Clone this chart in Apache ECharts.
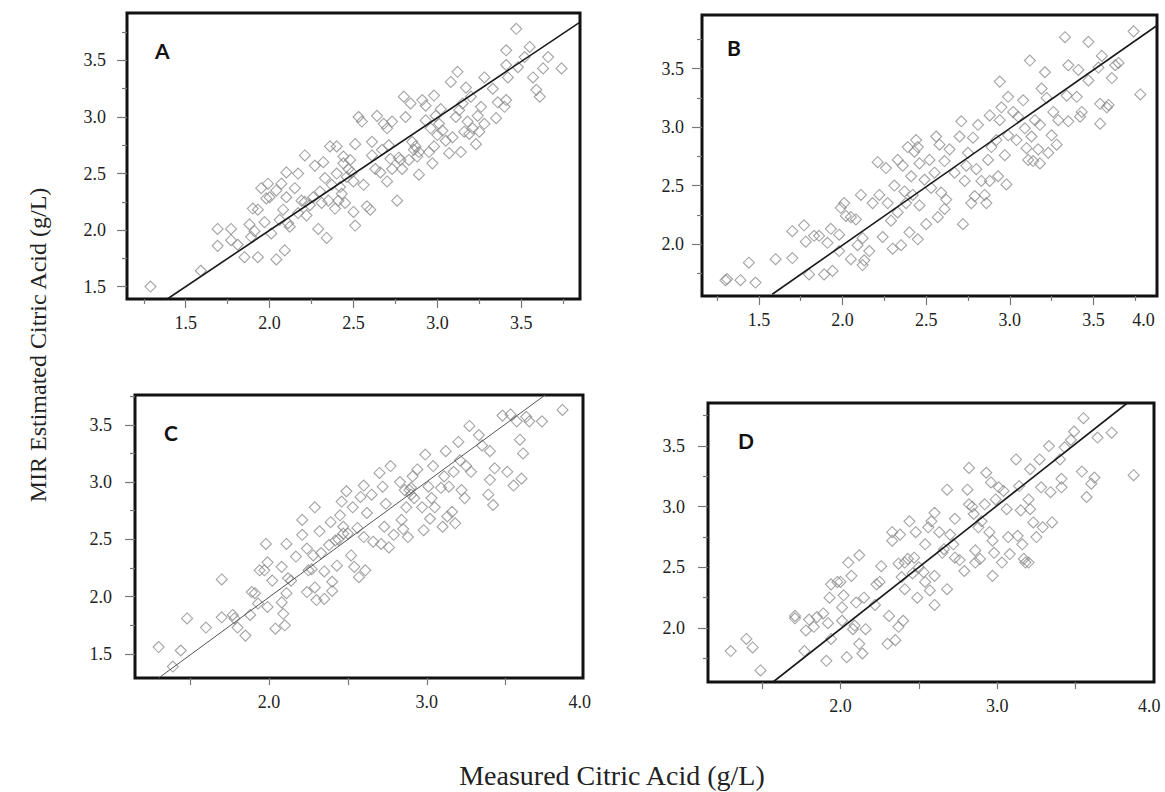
<!DOCTYPE html>
<html>
<head>
<meta charset="utf-8">
<title>MIR estimated vs measured citric acid</title>
<script src="https://cdn.jsdelivr.net/npm/echarts@6/dist/echarts.min.js"></script>
<style>
  html, body { margin: 0; padding: 0; background: #fff; }
  #chart { width: 1165px; height: 792px; }
</style>
</head>
<body>
<div id="chart"></div>
<script>
// measured (x) vs MIR estimated (y)
const pointsA = [
  [1.29,1.50],[1.59,1.64],[1.69,2.01],[1.69,1.86],[1.77,2.01],[1.77,1.91],[1.81,1.87],[1.85,1.76],
  [1.88,2.05],[1.90,2.19],[1.91,1.99],[1.93,1.76],[1.93,2.18],[1.95,2.37],[1.98,2.28],[1.99,2.41],
  [2.00,2.29],[1.97,2.07],[2.01,1.97],[2.04,2.35],[2.04,1.74],[2.07,2.41],[2.08,2.18],[2.09,1.82],
  [2.10,2.29],[2.10,2.51],[2.12,2.03],[2.11,2.06],[2.15,2.37],[2.17,2.50],[2.17,2.15],[2.21,2.66],
  [2.21,2.25],[2.22,2.13],[2.24,2.22],[2.26,2.29],[2.27,2.57],[2.29,2.01],[2.31,2.24],[2.32,2.60],
  [2.33,2.46],[2.34,1.93],[2.35,2.26],[2.36,2.74],[2.37,2.40],[2.39,2.19],[2.40,2.74],[2.40,2.50],
  [2.42,2.38],[2.43,2.32],[2.44,2.65],[2.44,2.59],[2.45,2.24],[2.46,2.47],[2.47,2.54],[2.49,2.51],
  [2.50,2.43],[2.51,2.76],[2.50,2.16],[2.51,2.04],[2.53,3.00],[2.55,2.96],[2.56,2.40],[2.58,2.21],
  [2.60,2.18],[2.61,2.78],[2.61,2.66],[2.63,2.54],[2.64,3.01],[2.66,2.51],[2.67,2.71],[2.68,2.94],
  [2.70,2.90],[2.71,2.75],[2.72,2.63],[2.73,2.96],[2.73,2.54],[2.76,2.26],[2.77,2.64],[2.79,2.54],
  [2.80,3.18],[2.81,3.00],[2.83,2.62],[2.84,3.12],[2.85,2.78],[2.86,2.71],[2.87,2.74],[2.88,2.65],
  [2.89,2.49],[2.89,2.69],[2.91,3.15],[2.93,3.10],[2.93,2.97],[2.95,2.69],[2.96,2.90],[2.97,2.59],
  [2.98,3.19],[2.98,2.74],[2.99,3.01],[3.00,2.84],[3.01,2.94],[3.02,3.07],[3.03,2.88],[3.05,2.79],
  [3.07,2.68],[3.08,3.31],[3.09,2.82],[3.11,3.00],[3.12,3.40],[3.13,3.06],[3.14,2.69],[3.15,3.12],
  [3.16,2.87],[3.17,3.26],[3.18,2.96],[3.19,2.85],[3.20,3.18],[3.21,2.90],[3.23,2.76],[3.24,3.01],
  [3.25,2.87],[3.26,3.09],[3.28,3.35],[3.28,2.94],[3.33,3.25],[3.35,2.99],[3.36,3.13],[3.40,3.09],
  [3.41,3.59],[3.41,3.15],[3.42,3.35],[3.41,3.46],[3.47,3.78],[3.48,3.44],[3.52,3.53],[3.55,3.62],
  [3.57,3.35],[3.59,3.24],[3.61,3.18],[3.63,3.43],[3.66,3.53],[3.74,3.43],[1.89,1.94],[2.06,2.09],
  [2.19,2.26],[2.30,2.34],[2.41,2.26],[2.48,2.62],[2.70,2.43],[2.78,2.62]
];
const pointsB = [
  [1.30,1.69],[1.31,1.70],[1.39,1.69],[1.44,1.84],[1.48,1.67],[1.60,1.87],[1.70,2.11],[1.70,1.88],
  [1.77,2.16],[1.78,2.02],[1.80,1.74],[1.83,2.07],[1.86,2.07],[1.89,1.74],[1.91,2.01],[1.93,2.13],
  [1.94,1.77],[1.98,2.08],[1.98,1.94],[1.99,2.31],[2.01,2.35],[2.02,2.24],[2.05,1.87],[2.05,2.23],
  [2.08,2.21],[2.09,1.99],[2.11,2.42],[2.12,2.05],[2.12,1.82],[2.13,1.86],[2.16,1.94],[2.18,2.35],
  [2.21,2.70],[2.22,2.42],[2.24,2.06],[2.26,2.65],[2.27,2.35],[2.29,2.20],[2.30,1.96],[2.31,2.50],
  [2.33,2.72],[2.33,2.27],[2.35,1.99],[2.36,2.67],[2.37,2.45],[2.38,2.35],[2.39,2.83],[2.40,2.10],
  [2.41,2.58],[2.42,2.42],[2.43,2.79],[2.44,2.89],[2.45,2.83],[2.45,2.04],[2.46,2.69],[2.46,2.33],
  [2.49,2.55],[2.50,2.17],[2.52,2.72],[2.53,2.48],[2.55,2.61],[2.56,2.92],[2.57,2.23],[2.58,2.85],
  [2.59,2.44],[2.61,2.71],[2.61,2.30],[2.62,2.38],[2.64,2.81],[2.67,2.61],[2.70,2.92],[2.71,3.05],
  [2.72,2.17],[2.73,2.54],[2.74,2.67],[2.75,2.78],[2.77,2.35],[2.78,2.91],[2.79,2.41],[2.80,2.64],
  [2.81,3.02],[2.83,2.54],[2.85,2.42],[2.86,2.35],[2.87,2.72],[2.88,3.10],[2.88,2.54],[2.89,2.83],
  [2.92,2.89],[2.93,2.58],[2.94,3.39],[2.94,3.06],[2.95,3.17],[2.97,2.76],[2.98,2.51],[2.99,3.26],
  [2.99,2.93],[3.02,3.13],[3.04,2.89],[3.05,3.09],[3.08,3.23],[3.09,2.99],[3.10,2.82],[3.11,2.72],
  [3.12,3.57],[3.13,2.92],[3.14,2.71],[3.15,3.06],[3.17,2.81],[3.18,3.02],[3.18,2.69],[3.19,3.33],
  [3.21,3.47],[3.22,3.25],[3.23,2.78],[3.25,2.93],[3.26,3.13],[3.28,2.85],[3.29,3.06],[3.33,3.77],
  [3.34,3.27],[3.35,3.53],[3.35,3.05],[3.40,3.26],[3.41,3.49],[3.42,3.09],[3.43,3.13],[3.47,3.73],
  [3.47,3.40],[3.53,3.51],[3.54,3.03],[3.55,3.61],[3.54,3.20],[3.58,3.17],[3.59,3.19],[3.61,3.42],
  [3.63,3.53],[3.65,3.55],[3.74,3.82],[3.78,3.28]
];
const pointsC = [
  [1.30,1.56],[1.39,1.39],[1.44,1.53],[1.48,1.81],[1.60,1.73],[1.70,2.15],[1.70,1.82],[1.77,1.84],
  [1.78,1.81],[1.80,1.73],[1.85,1.66],[1.88,1.84],[1.89,2.04],[1.91,2.03],[1.93,1.94],[1.94,2.23],
  [1.97,2.23],[1.98,2.46],[1.99,2.30],[1.99,1.91],[2.02,2.14],[2.04,1.72],[2.08,2.26],[2.08,1.95],
  [2.09,1.85],[2.10,1.75],[2.11,2.46],[2.11,2.03],[2.12,2.16],[2.14,2.14],[2.17,2.35],[2.21,2.67],
  [2.21,2.54],[2.24,2.42],[2.24,2.04],[2.25,2.23],[2.27,2.24],[2.29,2.78],[2.29,2.08],[2.30,1.97],
  [2.32,2.57],[2.33,2.38],[2.35,2.22],[2.35,1.98],[2.38,2.45],[2.39,2.65],[2.40,2.13],[2.40,2.05],
  [2.42,2.49],[2.43,2.27],[2.45,2.71],[2.46,2.83],[2.47,2.61],[2.49,2.92],[2.50,2.55],[2.52,2.36],
  [2.53,2.78],[2.54,2.26],[2.57,2.17],[2.58,2.87],[2.60,2.97],[2.60,2.52],[2.61,2.23],[2.62,2.73],
  [2.65,2.89],[2.66,2.48],[2.70,3.08],[2.71,2.46],[2.72,2.96],[2.73,2.61],[2.74,2.81],[2.76,2.43],
  [2.77,3.14],[2.79,2.54],[2.83,3.00],[2.84,2.67],[2.85,2.59],[2.86,2.93],[2.87,2.78],[2.88,2.52],
  [2.89,2.93],[2.90,2.89],[2.91,3.05],[2.92,2.86],[2.94,3.11],[2.97,2.78],[2.98,2.58],[2.99,3.24],
  [3.01,2.96],[3.02,2.68],[3.03,2.86],[3.04,3.14],[3.05,2.78],[3.09,2.95],[3.10,2.61],[3.11,3.05],
  [3.12,3.27],[3.13,2.70],[3.14,2.96],[3.16,2.74],[3.17,3.09],[3.18,2.64],[3.20,3.35],[3.21,3.19],
  [3.22,2.93],[3.24,2.86],[3.25,3.14],[3.27,3.49],[3.28,3.09],[3.33,3.41],[3.35,3.32],[3.39,2.89],
  [3.40,3.02],[3.40,3.27],[3.42,2.80],[3.43,3.12],[3.48,3.58],[3.51,3.09],[3.53,3.59],[3.55,2.97],
  [3.57,3.53],[3.59,3.37],[3.60,3.03],[3.61,3.25],[3.63,3.57],[3.65,3.53],[3.73,3.53],[3.86,3.63],
  [2.44,2.50],[2.47,2.55],[2.90,2.95],[2.28,2.36],[2.56,2.60]
];
const pointsD = [
  [1.30,1.81],[1.40,1.91],[1.44,1.84],[1.49,1.65],[1.71,2.10],[1.71,2.08],[1.77,1.81],[1.78,1.98],
  [1.80,2.07],[1.83,2.01],[1.85,2.09],[1.89,2.12],[1.91,1.73],[1.92,2.04],[1.93,2.25],[1.94,1.91],
  [1.94,2.36],[1.98,2.38],[2.00,2.38],[2.01,2.17],[2.01,2.06],[2.02,2.27],[2.04,1.76],[2.05,2.54],
  [2.07,2.43],[2.08,1.99],[2.09,2.02],[2.10,2.21],[2.12,2.60],[2.12,1.87],[2.14,1.79],[2.15,2.25],
  [2.16,1.99],[2.22,2.19],[2.23,2.36],[2.25,2.38],[2.26,2.51],[2.30,1.87],[2.31,2.10],[2.33,2.79],
  [2.33,2.72],[2.35,1.90],[2.37,2.01],[2.37,2.53],[2.38,2.77],[2.39,2.42],[2.40,2.06],[2.41,2.54],
  [2.41,2.32],[2.43,2.57],[2.44,2.88],[2.46,2.45],[2.47,2.58],[2.48,2.79],[2.49,2.25],[2.50,2.50],
  [2.53,2.46],[2.54,2.69],[2.54,2.38],[2.56,2.83],[2.57,2.31],[2.58,2.88],[2.60,2.19],[2.60,2.95],
  [2.60,2.43],[2.63,2.79],[2.65,2.62],[2.66,2.65],[2.68,3.14],[2.68,2.32],[2.70,2.77],[2.72,2.69],
  [2.73,2.90],[2.73,2.58],[2.76,2.56],[2.79,2.47],[2.81,3.14],[2.82,3.32],[2.82,3.02],[2.84,3.00],
  [2.85,2.94],[2.86,2.64],[2.86,2.54],[2.88,2.83],[2.89,2.57],[2.90,2.88],[2.92,3.02],[2.93,3.28],
  [2.95,2.79],[2.96,3.20],[2.97,2.72],[2.97,2.43],[2.98,2.62],[2.99,3.06],[3.01,3.16],[3.03,2.54],
  [3.04,3.13],[3.06,2.98],[3.07,2.75],[3.08,2.61],[3.12,3.39],[3.13,2.76],[3.14,3.17],[3.15,2.97],
  [3.16,2.69],[3.17,2.57],[3.18,2.54],[3.20,2.54],[3.20,3.06],[3.21,2.98],[3.21,3.31],[3.23,2.87],
  [3.25,2.75],[3.27,3.39],[3.28,3.16],[3.29,2.83],[3.33,3.50],[3.34,3.12],[3.35,2.87],[3.40,3.39],
  [3.41,3.16],[3.41,3.23],[3.43,3.49],[3.47,3.55],[3.49,3.62],[3.54,3.29],[3.55,3.73],[3.57,3.08],
  [3.60,3.19],[3.62,3.24],[3.64,3.57],[3.73,3.61],[3.87,3.26]
];

// 1:1 reference line ends
const fitA = [[1.39, 1.39], [3.85, 3.84]];
const fitB = [[1.58, 1.57], [3.88, 3.87]];
const fitC = [[1.30, 1.29], [3.75, 3.76]];
const fitD = [[1.57, 1.555], [3.83, 3.855]];

// tick positions and labels
const xMajorAB = [1.5, 2.0, 2.5, 3.0, 3.5];
const xMinorAB = [1.25, 1.75, 2.25, 2.75, 3.25, 3.75];
const xLabelsA = ['1.5', '2.0', '2.5', '3.0', '3.5'];
const xLabelValsB = [1.5, 2.0, 2.5, 3.0, 3.5, 3.8];
const xLabelsB = ['1.5', '2.0', '2.5', '3.0', '3.5', '4.0'];
const xTicksCD = [1.5, 2.0, 2.5, 3.0, 3.5];
const xLabelValsCD = [2.0, 3.0, 3.97];
const xLabelsCD = ['2.0', '3.0', '4.0'];
const yMajorAC = [1.5, 2.0, 2.5, 3.0, 3.5];
const yMinorAC = [1.75, 2.25, 2.75, 3.25, 3.75];
const yMajorBD = [2.0, 2.5, 3.0, 3.5];
const yMinorBD = [1.75, 2.25, 2.75, 3.25, 3.75];
const yLabelsAC = ['1.5', '2.0', '2.5', '3.0', '3.5'];
const yLabelsBD = ['2.0', '2.5', '3.0', '3.5'];

const panels = [
  { tag: 'A', pts: pointsA, fit: fitA, grid: { left: 127, top: 13, width: 453, height: 286 },
    xr: [1.15, 3.85], yr: [1.39, 3.92], tagPos: [155, 40], lineColor: '#1a1a1a', lineW: 1.6,
    xMajor: xMajorAB, xMinor: xMinorAB, xLabVals: xMajorAB, xLabs: xLabelsA,
    yMajor: yMajorAC, yMinor: yMinorAC, yLabs: yLabelsAC, yMargin: 21 },
  { tag: 'B', pts: pointsB, fit: fitB, grid: { left: 702, top: 15, width: 455, height: 281 },
    xr: [1.16, 3.88], yr: [1.555, 3.96], tagPos: [727, 37], lineColor: '#1a1a1a', lineW: 1.6,
    xMajor: xMajorAB, xMinor: xMinorAB, xLabVals: xLabelValsB, xLabs: xLabelsB,
    yMajor: yMajorBD, yMinor: yMinorBD, yLabs: yLabelsBD, yMargin: 18 },
  { tag: 'C', pts: pointsC, fit: fitC, grid: { left: 135, top: 395, width: 448, height: 283 },
    xr: [1.15, 3.99], yr: [1.29, 3.76], tagPos: [164, 422], lineColor: '#555', lineW: 1,
    xMajor: xTicksCD, xMinor: [], xLabVals: xLabelValsCD, xLabs: xLabelsCD,
    yMajor: yMajorAC, yMinor: yMinorAC, yLabs: yLabelsAC, yMargin: 23 },
  { tag: 'D', pts: pointsD, fit: fitD, grid: { left: 708, top: 403, width: 446, height: 279 },
    xr: [1.155, 4.0], yr: [1.555, 3.855], tagPos: [738, 430], lineColor: '#1a1a1a', lineW: 1.6,
    xMajor: xTicksCD, xMinor: [], xLabVals: xLabelValsCD, xLabs: xLabelsCD,
    yMajor: yMajorBD, yMinor: yMinorBD, yLabs: yLabelsBD, yMargin: 23 }
];

const serif = "'Liberation Serif', 'Times New Roman', serif";
const labelFont = { fontFamily: serif, fontSize: 18, color: '#222' };
const tickStyle = { color: '#777', width: 1.2 };

function pick(vals, labs) {
  return function (v) {
    const i = vals.findIndex(function (u) { return Math.abs(u - v) < 1e-6; });
    return i < 0 ? '' : labs[i];
  };
}

const grids = [], xAxes = [], yAxes = [], series = [], titles = [];
panels.forEach(function (p, i) {
  grids.push(Object.assign({ show: true, borderColor: '#111', borderWidth: 3,
    backgroundColor: 'transparent', containLabel: false }, p.grid));
  // major x axis with labels
  xAxes.push({ type: 'value', gridIndex: i, position: 'bottom', min: p.xr[0], max: p.xr[1],
    axisLine: { show: false }, splitLine: { show: false },
    axisTick: { show: true, length: p.xMinor.length ? 9 : 7, customValues: p.xMajor, lineStyle: tickStyle },
    axisLabel: Object.assign({ margin: 15, customValues: p.xLabVals, formatter: pick(p.xLabVals, p.xLabs) }, labelFont) });
  // minor x ticks
  xAxes.push({ type: 'value', gridIndex: i, position: 'bottom', min: p.xr[0], max: p.xr[1],
    axisLine: { show: false }, splitLine: { show: false }, axisLabel: { show: false },
    axisTick: { show: p.xMinor.length > 0, length: 5, customValues: p.xMinor.length ? p.xMinor : [p.xr[0]], lineStyle: tickStyle } });
  yAxes.push({ type: 'value', gridIndex: i, position: 'left', min: p.yr[0], max: p.yr[1],
    axisLine: { show: false }, splitLine: { show: false },
    axisTick: { show: true, length: 10, customValues: p.yMajor, lineStyle: tickStyle },
    axisLabel: Object.assign({ margin: p.yMargin, customValues: p.yMajor, formatter: pick(p.yMajor, p.yLabs) }, labelFont) });
  yAxes.push({ type: 'value', gridIndex: i, position: 'left', min: p.yr[0], max: p.yr[1],
    axisLine: { show: false }, splitLine: { show: false }, axisLabel: { show: false },
    axisTick: { show: true, length: 5, customValues: p.yMinor, lineStyle: tickStyle } });

  series.push({ type: 'scatter', xAxisIndex: 2 * i, yAxisIndex: 2 * i, data: p.pts,
    symbol: 'diamond', symbolSize: 11, silent: true, clip: true,
    itemStyle: { color: 'rgba(0,0,0,0)', borderColor: '#8c8c8c', borderWidth: 1.1 } });
  series.push({ type: 'line', xAxisIndex: 2 * i, yAxisIndex: 2 * i, data: p.fit,
    symbol: 'none', silent: true, clip: true, z: 3,
    lineStyle: { color: p.lineColor, width: p.lineW } });

  titles.push({ text: p.tag, left: p.tagPos[0], top: p.tagPos[1], padding: 0,
    textStyle: { fontFamily: 'Lato', fontWeight: 'bold', fontSize: 21, color: '#111' } });
});

const chart = echarts.init(document.getElementById('chart'), null, { renderer: 'svg' });
chart.setOption({
  animation: false,
  backgroundColor: '#fff',
  title: titles,
  grid: grids,
  xAxis: xAxes,
  yAxis: yAxes,
  series: series,
  graphic: [
    { type: 'text', x: 38, y: 345, rotation: Math.PI / 2,
      style: { text: 'MIR Estimated Citric Acid (g/L)', fill: '#222',
        font: "24px 'Liberation Serif'", textAlign: 'center', textVerticalAlign: 'middle' } },
    { type: 'text', x: 612, y: 775,
      style: { text: 'Measured Citric Acid (g/L)', fill: '#222',
        font: "28px 'Liberation Serif'", textAlign: 'center', textVerticalAlign: 'middle' } }
  ]
});
</script>
</body>
</html>
